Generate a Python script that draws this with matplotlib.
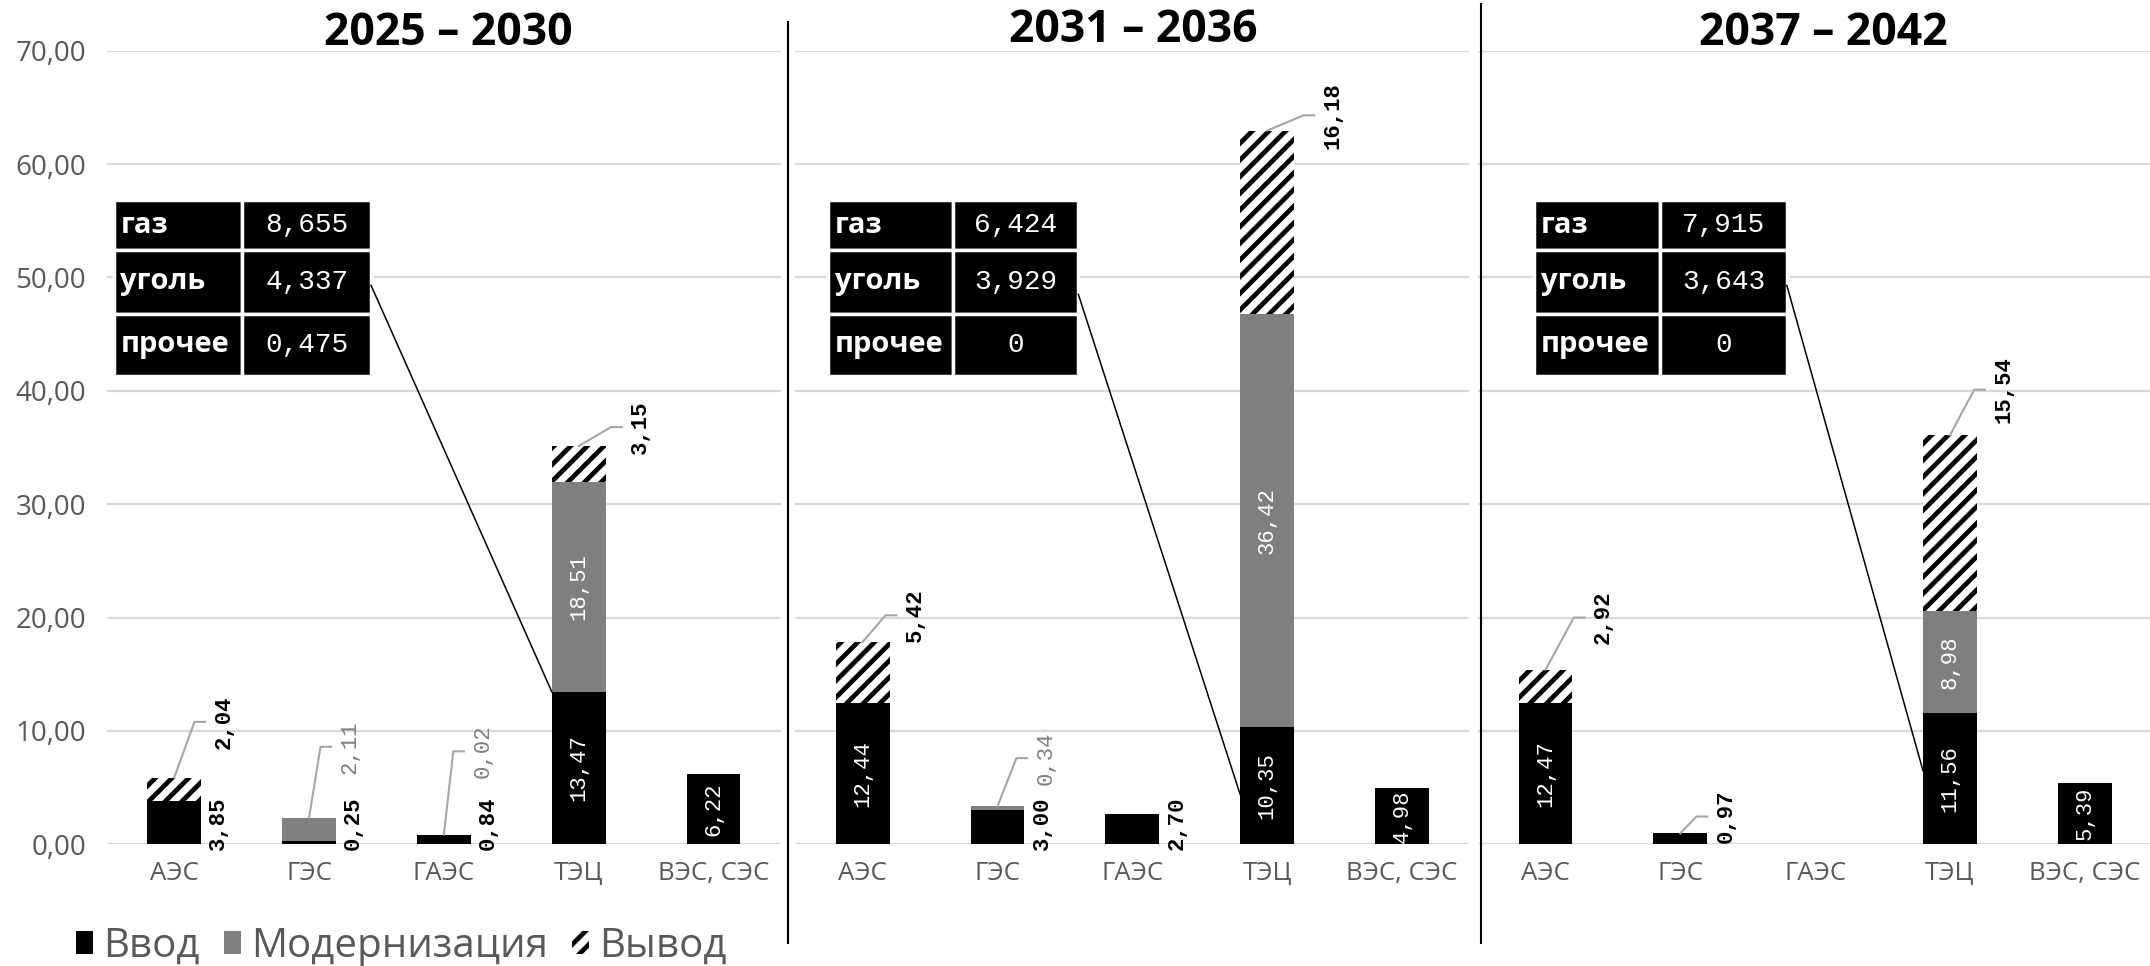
import matplotlib
matplotlib.use("Agg")
import matplotlib.pyplot as plt
from matplotlib.patches import Rectangle, Patch

plt.rcParams['font.family'] = ['Open Sans', 'DejaVu Sans']
plt.rcParams['hatch.linewidth'] = 3.4

categories = ["АЭС", "ГЭС", "ГАЭС", "ТЭЦ", "ВЭС, СЭС"]
periods = ["2025 – 2030", "2031 – 2036", "2037 – 2042"]

# Ввод / Модернизация / Вывод, ГВт
vvod_1 = [3.85, 0.25, 0.84, 13.47, 6.22]
modern_1 = [0, 2.11, 0.02, 18.51, 0]
vyvod_1 = [2.04, 0, 0, 3.15, 0]

vvod_2 = [12.44, 3.00, 2.70, 10.35, 4.98]
modern_2 = [0, 0.34, 0, 36.42, 0]
vyvod_2 = [5.42, 0, 0, 16.18, 0]

vvod_3 = [12.47, 0.97, 0, 11.56, 5.39]
modern_3 = [0, 0, 0, 8.98, 0]
vyvod_3 = [2.92, 0, 0, 15.54, 0]

fuel_names = ["газ", "уголь", "прочее"]
fuel_1 = [8.655, 4.337, 0.475]
fuel_2 = [6.424, 3.929, 0]
fuel_3 = [7.915, 3.643, 0]

series = [(vvod_1, modern_1, vyvod_1, fuel_1),
          (vvod_2, modern_2, vyvod_2, fuel_2),
          (vvod_3, modern_3, vyvod_3, fuel_3)]

BLACK = "#000000"
GREY = "#7f7f7f"
TXT = "#595959"
GRID = "#d9d9d9"
MONO = "Liberation Mono"
LAB = 16


def fmt(v, nd=2):
    return f"{v:.{nd}f}".replace(".", ",")


# label callouts: (panel, category, segment) -> (elbow dx, elbow y)
leaders = {
    (0, 0, 2): (0.15, 10.8), (0, 1, 1): (0.085, 8.6), (0, 2, 1): (0.07, 8.2),
    (0, 3, 2): (0.24, 36.8),
    (1, 0, 2): (0.17, 20.2), (1, 1, 1): (0.14, 7.6), (1, 3, 2): (0.27, 64.3),
    (2, 0, 2): (0.21, 20.0), (2, 1, 0): (0.12, 2.45), (2, 3, 2): (0.18, 40.1),
}
# tables: x edges in data units, connector start/end y
table_x = [(-0.45, 0.505, 1.46), (-0.256, 0.667, 1.60), (-0.084, 0.85, 1.79)]
row_y = [56.8, 52.4, 46.8, 41.3]
conn = [(49.3, 13.47), (48.5, 4.4), (49.3, 6.5)]

fig = plt.figure(figsize=(21.5, 9.66), dpi=100)
lefts = [0.0497, 0.3699, 0.6875]
axes = [fig.add_axes([l, 0.126, 0.3135, 0.8215]) for l in lefts]

x = list(range(len(categories)))
for p, ax in enumerate(axes):
    vv, mm, oo, fuel = series[p]
    bottoms2 = [a + b for a, b in zip(vv, mm)]
    ax.bar(x, vv, 0.4, color=BLACK, zorder=2)
    ax.bar(x, mm, 0.4, bottom=vv, color=GREY, zorder=2)
    ax.bar(x, oo, 0.4, bottom=bottoms2, facecolor="white", edgecolor=BLACK,
           hatch="//", linewidth=0, zorder=2)

    ax.set_xlim(-0.5, 4.5)
    ax.set_ylim(0, 70)
    ax.set_yticks(range(0, 71, 10))
    ax.yaxis.grid(True, color=GRID, lw=1.6, zorder=0)
    ax.set_axisbelow(True)
    for s in ax.spines.values():
        s.set_visible(False)
    ax.set_xticks(x)
    ax.set_xticklabels(categories, color=TXT, fontsize=18.5)
    ax.tick_params(length=0, pad=12)
    if p == 0:
        ax.set_yticklabels([fmt(v) for v in range(0, 71, 10)], color=TXT, fontsize=20)
        ax.tick_params(axis="y", pad=15)
    else:
        ax.tick_params(axis="y", labelleft=False)

    # data labels
    for i in x:
        segs = [(vv[i], 0, BLACK), (mm[i], vv[i], GREY), (oo[i], bottoms2[i], BLACK)]
        for k, (val, bot, col) in enumerate(segs):
            if val <= 0:
                continue
            lab = fmt(val)
            if (p, i, k) in leaders:
                dx, ly = leaders[(p, i, k)]
                top = bot + val
                ax.plot([i, i + dx, i + dx + 0.08], [top, ly, ly], color="#a6a6a6",
                        lw=1.5, zorder=3, clip_on=False)
                gray = k == 1
                ax.text(i + dx + 0.14, ly, lab, rotation=90, ha="left", va="center",
                        color=GREY if gray else BLACK, fontsize=LAB, family=MONO,
                        fontweight="normal" if gray else "bold", zorder=4)
            elif val >= 4.5:
                ax.text(i, bot + val / 2, lab, rotation=90, ha="center", va="center",
                        color="white", fontsize=LAB, family=MONO, zorder=4)
            else:
                ax.text(i + 0.33, -0.5, lab, rotation=90, ha="center", va="bottom",
                        color=BLACK, fontsize=LAB, family=MONO, fontweight="bold",
                        zorder=4, clip_on=False)

    # fuel table
    x0, x1, x2 = table_x[p]
    for r, name in enumerate(fuel_names):
        y_top, y_bot = row_y[r], row_y[r + 1]
        for (a, b) in [(x0, x1), (x1, x2)]:
            ax.add_patch(Rectangle((a, y_bot), b - a, y_top - y_bot, facecolor=BLACK,
                                   edgecolor="white", lw=2.5, zorder=5, clip_on=False))
        yc = (y_top + y_bot) / 2
        ax.text(x0 + 0.05, yc, name, color="white", fontsize=21, fontweight="bold",
                ha="left", va="center", zorder=6)
        v = fuel[r]
        ax.text((x1 + x2) / 2, yc, fmt(v, 3) if v else "0", color="white", fontsize=20,
                family=MONO, ha="center", va="center", zorder=6)
    ys, ye = conn[p]
    ax.plot([x2, 2.8], [ys, ye], color=BLACK, lw=1.1, zorder=6, clip_on=False)

# titles and separators
for cx, cy, t in zip([0.2085, 0.527, 0.848], [0.965, 0.968, 0.965], periods):
    fig.text(cx, cy, t, ha="center", va="center", fontsize=32, fontweight="bold")
fig.add_artist(plt.Line2D([0.3667, 0.3667], [0.024, 0.977], color=BLACK, lw=1.5))
fig.add_artist(plt.Line2D([0.6888, 0.6888], [0.024, 0.996], color=BLACK, lw=1.5))

handles = [Patch(facecolor=BLACK), Patch(facecolor=GREY),
           Patch(facecolor="white", edgecolor=BLACK, hatch="//", lw=0)]
fig.legend(handles, ["Ввод", "Модернизация", "Вывод"], loc="center left",
           bbox_to_anchor=(0.026, 0.020), ncol=3, frameon=False, fontsize=29,
           handlelength=0.42, handleheight=0.5, handletextpad=0.25, columnspacing=0.6,
           labelcolor=TXT, borderpad=0)

fig.savefig("out.png", dpi=100)
